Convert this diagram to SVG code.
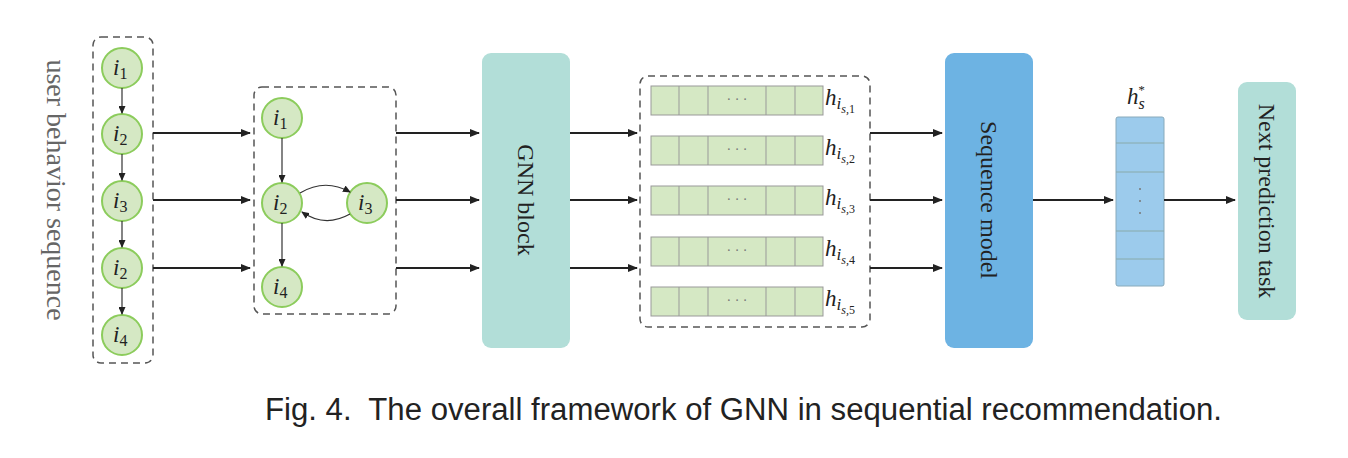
<svg xmlns="http://www.w3.org/2000/svg" width="1348" height="458" viewBox="0 0 1348 458">
<style>
.dash{fill:none;stroke:#555;stroke-width:1.5;stroke-dasharray:7 5}
.nd circle{fill:#d5e8c4;stroke:#8ccc5c;stroke-width:2}
.lab{font-family:"Liberation Serif",serif;font-style:italic;font-size:23px;fill:#222}
.sub{font-size:16px;font-style:normal}
.c{stroke:#222;stroke-width:2;fill:none;marker-end:url(#a)}
.t{stroke:#333;stroke-width:1.2;fill:none;marker-end:url(#s)}
.row rect{fill:#d5e8c4;stroke:#999;stroke-width:1}
.row line{stroke:#999;stroke-width:1}
.dots{font-family:"Liberation Serif",serif;font-size:14px;fill:#777;text-anchor:middle}
.vt{font-family:"Liberation Serif",serif;font-size:24px;fill:#222;text-anchor:middle}
</style>
<defs>
<marker id="a" markerWidth="10" markerHeight="8" refX="9" refY="4" orient="auto" markerUnits="userSpaceOnUse"><path d="M0,0 L10,4 L0,8z" fill="#222"/></marker>
<marker id="s" markerWidth="8" markerHeight="7" refX="7" refY="3.5" orient="auto" markerUnits="userSpaceOnUse"><path d="M0,0 L8,3.5 L0,7z" fill="#222"/></marker>
</defs>
<rect width="1348" height="458" fill="#fff"/>
<text class="vt" transform="translate(47,190) rotate(90)" style="fill:#666;font-size:28px">user behavior sequence</text>
<rect class="dash" x="93" y="37" width="60" height="326" rx="8"/>
<g id="seq1" class="nd"><circle cx="122" cy="68" r="20"/><text class="lab" x="113" y="75">i<tspan class="sub" dy="4">1</tspan></text></g>
<g id="seq2" class="nd"><circle cx="122" cy="134" r="20"/><text class="lab" x="113" y="141">i<tspan class="sub" dy="4">2</tspan></text></g>
<g id="seq3" class="nd"><circle cx="122" cy="201" r="20"/><text class="lab" x="113" y="208">i<tspan class="sub" dy="4">3</tspan></text></g>
<g id="seq4" class="nd"><circle cx="122" cy="268" r="20"/><text class="lab" x="113" y="275">i<tspan class="sub" dy="4">2</tspan></text></g>
<g id="seq5" class="nd"><circle cx="122" cy="335" r="20"/><text class="lab" x="113" y="342">i<tspan class="sub" dy="4">4</tspan></text></g>
<rect class="dash" x="254" y="87" width="142" height="227" rx="8"/>
<g id="g1" class="nd"><circle cx="282" cy="118" r="20"/><text class="lab" x="273" y="125">i<tspan class="sub" dy="4">1</tspan></text></g>
<g id="g2" class="nd"><circle cx="282" cy="203" r="20"/><text class="lab" x="273" y="210">i<tspan class="sub" dy="4">2</tspan></text></g>
<g id="g3" class="nd"><circle cx="367" cy="203" r="20"/><text class="lab" x="358" y="210">i<tspan class="sub" dy="4">3</tspan></text></g>
<g id="g4" class="nd"><circle cx="282" cy="287" r="20"/><text class="lab" x="273" y="294">i<tspan class="sub" dy="4">4</tspan></text></g>
<g id="gnn"><rect x="482" y="53" width="88" height="295" rx="9" fill="#b2ded8"/><text class="vt" transform="translate(518,200) rotate(90)">GNN block</text></g>
<rect class="dash" x="640" y="76" width="230" height="251" rx="8"/>
<g id="rows">
<g class="row"><rect x="651" y="86" width="172" height="29"/><line x1="679" y1="86" x2="679" y2="115"/><line x1="708" y1="86" x2="708" y2="115"/><line x1="766" y1="86" x2="766" y2="115"/><line x1="795" y1="86" x2="795" y2="115"/><text class="dots" x="737" y="104">· · ·</text></g>
<g class="row"><rect x="651" y="136" width="172" height="29"/><line x1="679" y1="136" x2="679" y2="165"/><line x1="708" y1="136" x2="708" y2="165"/><line x1="766" y1="136" x2="766" y2="165"/><line x1="795" y1="136" x2="795" y2="165"/><text class="dots" x="737" y="154">· · ·</text></g>
<g class="row"><rect x="651" y="186" width="172" height="29"/><line x1="679" y1="186" x2="679" y2="215"/><line x1="708" y1="186" x2="708" y2="215"/><line x1="766" y1="186" x2="766" y2="215"/><line x1="795" y1="186" x2="795" y2="215"/><text class="dots" x="737" y="204">· · ·</text></g>
<g class="row"><rect x="651" y="237" width="172" height="29"/><line x1="679" y1="237" x2="679" y2="266"/><line x1="708" y1="237" x2="708" y2="266"/><line x1="766" y1="237" x2="766" y2="266"/><line x1="795" y1="237" x2="795" y2="266"/><text class="dots" x="737" y="255">· · ·</text></g>
<g class="row"><rect x="651" y="287" width="172" height="29"/><line x1="679" y1="287" x2="679" y2="316"/><line x1="708" y1="287" x2="708" y2="316"/><line x1="766" y1="287" x2="766" y2="316"/><line x1="795" y1="287" x2="795" y2="316"/><text class="dots" x="737" y="305">· · ·</text></g>
</g>
<g class="lab">
<text x="825" y="105">h<tspan font-size="17" dy="4">i</tspan><tspan font-size="12" dy="4">s,</tspan><tspan font-size="12" font-style="normal">1</tspan></text>
<text x="825" y="155">h<tspan font-size="17" dy="4">i</tspan><tspan font-size="12" dy="4">s,</tspan><tspan font-size="12" font-style="normal">2</tspan></text>
<text x="825" y="205">h<tspan font-size="17" dy="4">i</tspan><tspan font-size="12" dy="4">s,</tspan><tspan font-size="12" font-style="normal">3</tspan></text>
<text x="825" y="256">h<tspan font-size="17" dy="4">i</tspan><tspan font-size="12" dy="4">s,</tspan><tspan font-size="12" font-style="normal">4</tspan></text>
<text x="825" y="306">h<tspan font-size="17" dy="4">i</tspan><tspan font-size="12" dy="4">s,</tspan><tspan font-size="12" font-style="normal">5</tspan></text>
</g>
<g id="seqmodel"><rect x="945" y="53" width="88" height="295" rx="9" fill="#6db3e3"/><text class="vt" transform="translate(981,200) rotate(90)">Sequence model</text></g>
<g id="hs"><rect x="1116" y="117" width="48" height="169" rx="2" fill="#9ccbec" stroke="#8ab" stroke-width="1"/>
<line x1="1116" y1="143" x2="1164" y2="143" stroke="#8aa"/><line x1="1116" y1="172" x2="1164" y2="172" stroke="#8aa"/><line x1="1116" y1="231" x2="1164" y2="231" stroke="#8aa"/><line x1="1116" y1="259" x2="1164" y2="259" stroke="#8aa"/>
<circle cx="1140" cy="189" r="1" fill="#777"/><circle cx="1140" cy="201" r="1" fill="#777"/><circle cx="1140" cy="213" r="1" fill="#777"/>
<text class="lab" x="1127" y="104">h<tspan font-size="16" dy="5">s</tspan><tspan font-size="13" dx="-7" dy="-15">*</tspan></text></g>
<g id="next"><rect x="1238" y="82" width="58" height="238" rx="9" fill="#b2ded8"/><text class="vt" transform="translate(1259,201) rotate(90)">Next prediction task</text></g>
<g id="connectors">
<line class="t" x1="122" y1="88" x2="122" y2="113"/>
<line class="t" x1="122" y1="154" x2="122" y2="180"/>
<line class="t" x1="122" y1="221" x2="122" y2="247"/>
<line class="t" x1="122" y1="288" x2="122" y2="314"/>
<line class="t" x1="282" y1="138" x2="282" y2="182"/>
<line class="t" x1="282" y1="223" x2="282" y2="266"/>
<path class="t" d="M300,193 Q325,178 350,192"/>
<path class="t" d="M350,214 Q325,228 302,212"/>
<line class="c" x1="153" y1="133" x2="250" y2="133"/>
<line class="c" x1="153" y1="200" x2="250" y2="200"/>
<line class="c" x1="153" y1="268" x2="250" y2="268"/>
<line class="c" x1="396" y1="133" x2="479" y2="133"/>
<line class="c" x1="396" y1="200" x2="479" y2="200"/>
<line class="c" x1="396" y1="268" x2="479" y2="268"/>
<line class="c" x1="570" y1="133" x2="637" y2="133"/>
<line class="c" x1="570" y1="200" x2="637" y2="200"/>
<line class="c" x1="570" y1="268" x2="637" y2="268"/>
<line class="c" x1="870" y1="133" x2="942" y2="133"/>
<line class="c" x1="870" y1="200" x2="942" y2="200"/>
<line class="c" x1="870" y1="268" x2="942" y2="268"/>
<line class="c" x1="1033" y1="200" x2="1113" y2="200"/>
<line class="c" x1="1164" y1="200" x2="1235" y2="200"/>
</g>
<text x="265" y="420" font-family="Liberation Sans,sans-serif" font-size="31" fill="#222" textLength="957" lengthAdjust="spacingAndGlyphs" xml:space="preserve">Fig. 4.  The overall framework of GNN in sequential recommendation.</text>
</svg>
